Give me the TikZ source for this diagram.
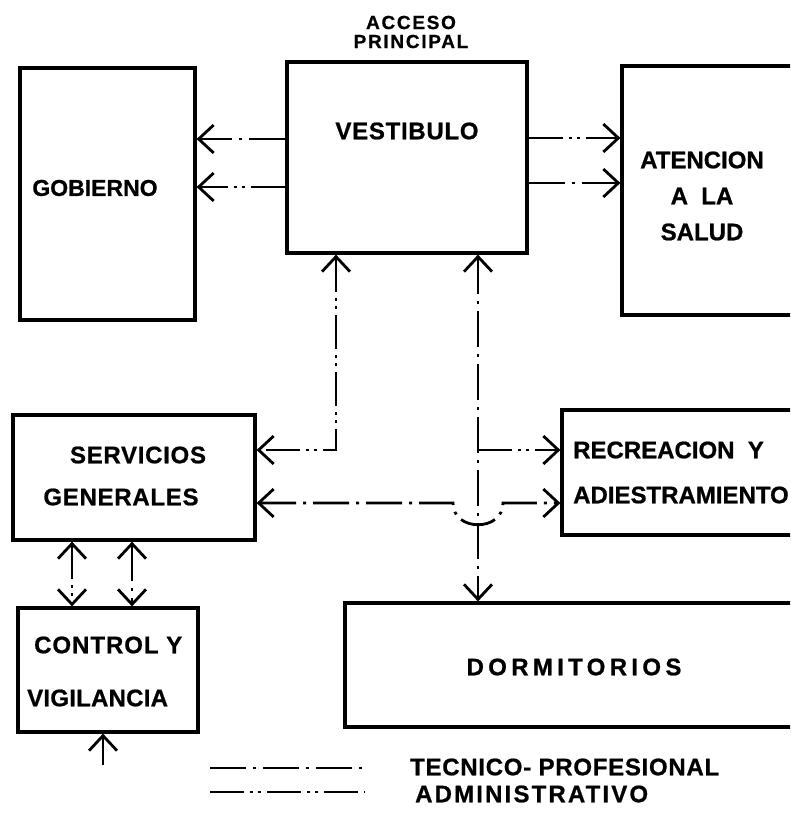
\documentclass[tikz,border=0pt]{standalone}
\usepackage{fontspec}
\setsansfont{Liberation Sans}[BoldFeatures={FakeBold=0.8}]
\usetikzlibrary{arrows.meta}

\begin{document}
\begin{tikzpicture}[x=1pt, y=-1pt, >={Straight Barb[length=15pt,width=28pt,line width=2.8pt]},
    box/.style={draw=black, line width=3.2pt, rectangle, inner sep=0pt},
    lbl/.style={font=\sffamily\bfseries\fontsize{24}{36}\selectfont\addfontfeature{LetterSpace=#1}, inner sep=0pt, align=center},
    lbl/.default=0,
    tec/.style={line width=2.8pt, dash pattern=on 36pt off 7pt on 3pt off 7pt},
    adm/.style={line width=2.8pt, dash pattern=on 34pt off 6pt on 3pt off 5pt on 3pt off 6pt}]

  \useasboundingbox (0,0) rectangle (790,819);
  \clip (0,0) rectangle (790,819);

  \node[box, minimum width=175pt, minimum height=252pt] (gob) at (107.5,194) {};
  \node[box, minimum width=240pt, minimum height=191pt] (vest) at (407,157.5) {};
  \node[box, minimum width=200pt, minimum height=249pt] (aten) at (722,190.5) {};
  \node[box, minimum width=242pt, minimum height=125pt] (serv) at (134,477.5) {};
  \node[box, minimum width=258pt, minimum height=125pt] (recr) at (691,472.5) {};
  \node[box, minimum width=180pt, minimum height=124pt] (ctrl) at (108,670) {};
  \node[box, minimum width=475pt, minimum height=124pt] (dorm) at (582.5,665) {};

  \node[lbl, font=\sffamily\bfseries\fontsize{19}{19}\selectfont\addfontfeature{LetterSpace=9}] (acceso) at (411,32) {ACCESO\\PRINCIPAL};
  \node[lbl=3] (vestT) at (407,131) {VESTIBULO};
  \node[lbl, font=\sffamily\bfseries\fontsize{23}{36}\selectfont] (gobT) at (95,188) {GOBIERNO};
  \node[lbl] (atenT) at (702,196) {ATENCION\\A~~LA\\SALUD};
  \node[lbl=3] (servT) at (138,455) {SERVICIOS};
  \node[lbl=3] (genT) at (121,497) {GENERALES};
  \node[lbl, anchor=west] (recrT) at (573,450) {RECREACION~~Y};
  \node[lbl, anchor=west] (adieT) at (573,495) {ADIESTRAMIENTO};
  \node[lbl=4, anchor=west] (ctrlT) at (34,645) {CONTROL~Y};
  \node[lbl=1, anchor=west] (vigT) at (27,698) {VIGILANCIA};
  \node[lbl=18] (dormT) at (574,667) {DORMITORIOS};

  \coordinate (r1) at (0,139);
  \coordinate (r2) at (0,187);
  \coordinate (r3) at (0,138);
  \coordinate (r4) at (0,183);
  \coordinate (r5) at (0,450);
  \coordinate (r6) at (0,503);
  \coordinate (c1) at (336,0);
  \coordinate (c2) at (478,0);
  \coordinate (c3) at (72,0);
  \coordinate (c4) at (132,0);
  \coordinate (hopL) at (453,503);
  \coordinate (hopR) at (503,503);
  \coordinate (entry) at (103,765);

  \draw[tec, ->] (vest.west |- r1) -- (gob.east |- r1);
  \draw[adm, ->] (vest.west |- r2) -- (gob.east |- r2);
  \draw[adm, ->] (vest.east |- r3) -- (aten.west |- r3);
  \draw[tec, ->] (vest.east |- r4) -- (aten.west |- r4);
  \draw[adm, <->] (vest.south -| c1) -- (c1 |- r5) -- (serv.east |- r5);
  \draw[tec, <->] (vest.south -| c2) -- (dorm.north -| c2);
  \draw[adm, ->] (c2 |- r5) -- (recr.west |- r5);
  \draw[tec, <->] (serv.east |- r6) -- (hopL) .. controls +(0,29) and +(0,29) .. (hopR) -- (recr.west |- r6);
  \draw[adm, <->] (serv.south -| c3) -- (ctrl.north -| c3);
  \draw[tec, <->] (serv.south -| c4) -- (ctrl.north -| c4);
  \draw[line width=2.8pt, ->] (entry) -- (ctrl.south -| entry);

  \coordinate (tecA) at (210,768);
  \coordinate (tecB) at (365,768);
  \coordinate (admA) at (210,792);
  \coordinate (admB) at (365,792);
  \draw[tec, line width=2.2pt] (tecA) -- (tecB);
  \draw[adm, line width=2.2pt] (admA) -- (admB);
  \node[lbl=3, anchor=west] (tecT) at (410,767) {TECNICO- PROFESIONAL};
  \node[lbl=9, anchor=west] (admT) at (415,794) {ADMINISTRATIVO};
\end{tikzpicture}
\end{document}
